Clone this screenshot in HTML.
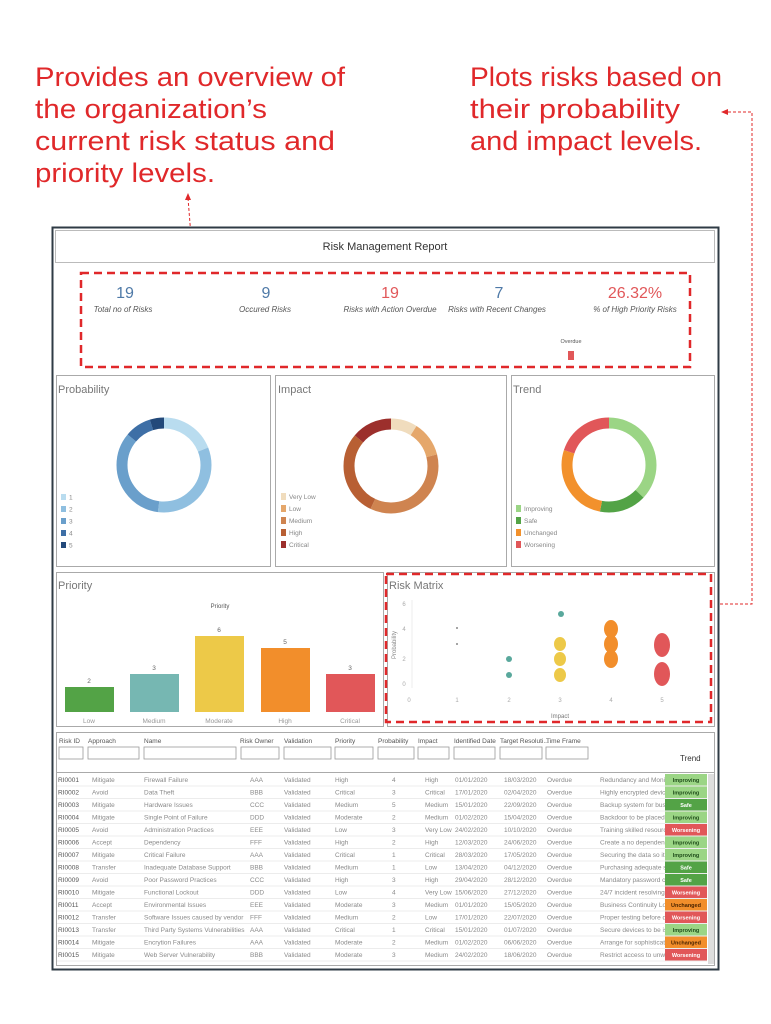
<!DOCTYPE html>
<html><head><meta charset="utf-8"><style>
html,body{margin:0;padding:0;background:#fff;}
svg{display:block;font-family:"Liberation Sans",sans-serif;}
.ann{font-family:"Liberation Sans",sans-serif;fill:#e0282a;font-size:27px;}
.t{font-size:6.5px;fill:#8a8a8a;}
.h{font-size:6.5px;fill:#555;}
.pt{font-size:11px;fill:#777;}
.lg{font-size:6.5px;fill:#888;}
</style></head><body>
<svg width="771" height="1024" viewBox="0 0 771 1024" xmlns="http://www.w3.org/2000/svg">
<text class="ann" x="35" y="86" textLength="310" lengthAdjust="spacingAndGlyphs">Provides an overview of</text>
<text class="ann" x="35" y="118" textLength="232" lengthAdjust="spacingAndGlyphs">the organization’s</text>
<text class="ann" x="35" y="150" textLength="300" lengthAdjust="spacingAndGlyphs">current risk status and</text>
<text class="ann" x="35" y="182" textLength="180" lengthAdjust="spacingAndGlyphs">priority levels.</text>
<text class="ann" x="470" y="86" textLength="252" lengthAdjust="spacingAndGlyphs">Plots risks based on</text>
<text class="ann" x="470" y="118" textLength="210" lengthAdjust="spacingAndGlyphs">their probability</text>
<text class="ann" x="470" y="150" textLength="232" lengthAdjust="spacingAndGlyphs">and impact levels.</text>
<path d="M188 198 L196 300" stroke="#e0282a" stroke-width="1" stroke-dasharray="3,2" fill="none"/>
<path d="M185 200 L188 193 L191 200Z" fill="#e0282a"/>
<path d="M680 604 L752 604 L752 112 L727 112" stroke="#e0282a" stroke-width="1" stroke-dasharray="3,2" fill="none"/>
<path d="M728 109 L721 112 L728 115Z" fill="#e0282a"/>
<rect x="52.5" y="227.5" width="666" height="742" fill="#fff" stroke="#2f3b45" stroke-width="2"/>
<rect x="55.5" y="230.5" width="659" height="32" fill="#fff" stroke="#bbb"/>
<text x="385" y="250" text-anchor="middle" font-size="11" fill="#333">Risk Management Report</text>
<rect x="81" y="273" width="609" height="94" fill="none" stroke="#e0282a" stroke-width="2.5" stroke-dasharray="8,5"/>
<g font-size="16" text-anchor="middle">
<text x="125" y="298" fill="#4e79a7">19</text>
<text x="266" y="298" fill="#4e79a7">9</text>
<text x="390" y="298" fill="#e15759">19</text>
<text x="499" y="298" fill="#4e79a7">7</text>
<text x="635" y="298" fill="#e15759">26.32%</text>
</g>
<g font-size="8" font-style="italic" fill="#555" text-anchor="middle">
<text x="123" y="312">Total no of Risks</text>
<text x="265" y="312">Occured Risks</text>
<text x="390" y="312">Risks with Action Overdue</text>
<text x="497" y="312">Risks with Recent Changes</text>
<text x="635" y="312">% of High Priority Risks</text>
</g>
<text x="571" y="343" font-size="5.5" fill="#555" text-anchor="middle">Overdue</text>
<rect x="568" y="351" width="6" height="9" fill="#e15759"/>
<rect x="56.5" y="375.5" width="214" height="191" fill="#fff" stroke="#aaa"/>
<rect x="275.5" y="375.5" width="231" height="191" fill="#fff" stroke="#aaa"/>
<rect x="511.5" y="375.5" width="203" height="191" fill="#fff" stroke="#aaa"/>
<text class="pt" x="58" y="393">Probability</text>
<text class="pt" x="278" y="393">Impact</text>
<text class="pt" x="513" y="393">Trend</text>
<g transform="translate(164,465) rotate(-90)" fill="none" stroke-width="11">
<circle r="42" stroke="#b9dcef" stroke-dasharray="50.1 263.9" stroke-dashoffset="0"/>
<circle r="42" stroke="#8fbfe0" stroke-dasharray="87.1 263.9" stroke-dashoffset="-50.1"/>
<circle r="42" stroke="#6a9fcb" stroke-dasharray="89.7 263.9" stroke-dashoffset="-137.2"/>
<circle r="42" stroke="#3e6fa6" stroke-dasharray="23.8 263.9" stroke-dashoffset="-226.9"/>
<circle r="42" stroke="#23497a" stroke-dasharray="13.2 263.9" stroke-dashoffset="-250.7"/>
</g>
<g class="lg">
<rect x="61" y="494" width="5" height="6" fill="#b9dcef"/><text x="69" y="499.5">1</text>
<rect x="61" y="506" width="5" height="6" fill="#8fbfe0"/><text x="69" y="511.5">2</text>
<rect x="61" y="518" width="5" height="6" fill="#6a9fcb"/><text x="69" y="523.5">3</text>
<rect x="61" y="530" width="5" height="6" fill="#3e6fa6"/><text x="69" y="535.5">4</text>
<rect x="61" y="542" width="5" height="6" fill="#23497a"/><text x="69" y="547.5">5</text>
</g>
<g transform="translate(391,466) rotate(-90)" fill="none" stroke-width="11">
<circle r="42" stroke="#f0dcbd" stroke-dasharray="23.8 263.9" stroke-dashoffset="0"/>
<circle r="42" stroke="#e5a76b" stroke-dasharray="31.7 263.9" stroke-dashoffset="-23.8"/>
<circle r="42" stroke="#cf8450" stroke-dasharray="95 263.9" stroke-dashoffset="-55.5"/>
<circle r="42" stroke="#b85f33" stroke-dasharray="76.5 263.9" stroke-dashoffset="-150.5"/>
<circle r="42" stroke="#9c2f2c" stroke-dasharray="36.9 263.9" stroke-dashoffset="-227"/>
</g>
<g class="lg">
<rect x="281" y="493" width="5" height="7" fill="#f0dcbd"/><text x="289" y="499">Very Low</text>
<rect x="281" y="505" width="5" height="7" fill="#e5a76b"/><text x="289" y="511">Low</text>
<rect x="281" y="517" width="5" height="7" fill="#cf8450"/><text x="289" y="523">Medium</text>
<rect x="281" y="529" width="5" height="7" fill="#b85f33"/><text x="289" y="535">High</text>
<rect x="281" y="541" width="5" height="7" fill="#9c2f2c"/><text x="289" y="547">Critical</text>
</g>
<g transform="translate(609,465) rotate(-90)" fill="none" stroke-width="11">
<circle r="42" stroke="#9bd585" stroke-dasharray="97.6 263.9" stroke-dashoffset="0"/>
<circle r="42" stroke="#53a346" stroke-dasharray="42.2 263.9" stroke-dashoffset="-97.6"/>
<circle r="42" stroke="#f2912c" stroke-dasharray="71.3 263.9" stroke-dashoffset="-139.8"/>
<circle r="42" stroke="#e15759" stroke-dasharray="52.8 263.9" stroke-dashoffset="-211.1"/>
</g>
<g class="lg">
<rect x="516" y="505" width="5" height="7" fill="#9bd585"/><text x="524" y="511">Improving</text>
<rect x="516" y="517" width="5" height="7" fill="#53a346"/><text x="524" y="523">Safe</text>
<rect x="516" y="529" width="5" height="7" fill="#f2912c"/><text x="524" y="535">Unchanged</text>
<rect x="516" y="541" width="5" height="7" fill="#e15759"/><text x="524" y="547">Worsening</text>
</g>
<rect x="56.5" y="572.5" width="327" height="154" fill="#fff" stroke="#aaa"/>
<text class="pt" x="58" y="589">Priority</text>
<text x="220" y="608" font-size="6" fill="#555" text-anchor="middle">Priority</text>
<rect x="65" y="687" width="49" height="25" fill="#53a346"/>
<rect x="130" y="674" width="49" height="38" fill="#76b7b2"/>
<rect x="195" y="636" width="49" height="76" fill="#edc948"/>
<rect x="261" y="648" width="49" height="64" fill="#f28e2b"/>
<rect x="326" y="674" width="49" height="38" fill="#e15759"/>
<g font-size="6.5" fill="#666" text-anchor="middle">
<text x="89" y="683">2</text><text x="154" y="670">3</text><text x="219" y="632">6</text><text x="285" y="644">5</text><text x="350" y="670">3</text>
<text x="89" y="723" fill="#999">Low</text><text x="154" y="723" fill="#999">Medium</text><text x="219" y="723" fill="#999">Moderate</text><text x="285" y="723" fill="#999">High</text><text x="350" y="723" fill="#999">Critical</text>
</g>
<rect x="387.5" y="572.5" width="327" height="154" fill="#fff" stroke="#aaa"/>
<text class="pt" x="389" y="589">Risk Matrix</text>
<line x1="412" y1="600" x2="412" y2="688" stroke="#eee"/>
<g font-size="6" fill="#aaa" text-anchor="middle">
<text x="404" y="606">6</text><text x="404" y="631">4</text><text x="404" y="661">2</text><text x="404" y="686">0</text>
<text x="409" y="702">0</text><text x="457" y="702">1</text><text x="509" y="702">2</text><text x="560" y="702">3</text><text x="611" y="702">4</text><text x="662" y="702">5</text>
<text x="560" y="718" fill="#777">Impact</text>
<text transform="translate(396,645) rotate(-90)" fill="#888">Probability</text>
</g>
<circle cx="457" cy="628" r="1" fill="#888"/><circle cx="457" cy="644" r="1" fill="#888"/>
<circle cx="509" cy="659" r="3" fill="#59a89c"/><circle cx="509" cy="675" r="3" fill="#59a89c"/>
<circle cx="561" cy="614" r="3" fill="#59a89c"/>
<ellipse cx="560" cy="644" rx="6" ry="7" fill="#edc948"/><ellipse cx="560" cy="659" rx="6" ry="7" fill="#edc948"/><ellipse cx="560" cy="675" rx="6" ry="7" fill="#edc948"/>
<ellipse cx="611" cy="629" rx="7" ry="9" fill="#f28e2b"/><ellipse cx="611" cy="644" rx="7" ry="9" fill="#f28e2b"/><ellipse cx="611" cy="659" rx="7" ry="9" fill="#f28e2b"/>
<ellipse cx="662" cy="645" rx="8" ry="12" fill="#e15759"/><ellipse cx="662" cy="674" rx="8" ry="12" fill="#e15759"/>
<rect x="386" y="574" width="325" height="148" fill="none" stroke="#e0282a" stroke-width="2.5" stroke-dasharray="8,5"/>
<rect x="56.5" y="732.5" width="658" height="43" fill="#fff" stroke="#aaa"/>
<g class="h">
<text x="59" y="743">Risk ID</text><text x="88" y="743">Approach</text><text x="144" y="743">Name</text><text x="240" y="743">Risk Owner</text><text x="284" y="743">Validation</text><text x="335" y="743">Priority</text><text x="378" y="743">Probability</text><text x="418" y="743">Impact</text><text x="454" y="743">Identified Date</text><text x="500" y="743">Target Resoluti...</text><text x="546" y="743">Time Frame</text>
</g>
<g fill="#fff" stroke="#999" stroke-width="0.8">
<rect x="59" y="747" width="24" height="12"/><rect x="88" y="747" width="51" height="12"/><rect x="144" y="747" width="92" height="12"/><rect x="241" y="747" width="38" height="12"/><rect x="284" y="747" width="47" height="12"/><rect x="335" y="747" width="38" height="12"/><rect x="378" y="747" width="36" height="12"/><rect x="418" y="747" width="31" height="12"/><rect x="454" y="747" width="41" height="12"/><rect x="500" y="747" width="42" height="12"/><rect x="546" y="747" width="42" height="12"/>
</g>
<text x="680" y="761" font-size="8" fill="#333">Trend</text>
<rect x="56.5" y="772.5" width="658" height="193" fill="#fff" stroke="#aaa"/>
<rect x="708" y="774" width="6" height="190" fill="#ddd"/>
<g stroke="#e6e6e6" stroke-width="0.8">
<line x1="57" y1="786" x2="707" y2="786"/><line x1="57" y1="798.5" x2="707" y2="798.5"/><line x1="57" y1="811" x2="707" y2="811"/><line x1="57" y1="823.5" x2="707" y2="823.5"/><line x1="57" y1="836" x2="707" y2="836"/><line x1="57" y1="848.5" x2="707" y2="848.5"/><line x1="57" y1="861" x2="707" y2="861"/><line x1="57" y1="873.5" x2="707" y2="873.5"/><line x1="57" y1="886" x2="707" y2="886"/><line x1="57" y1="898.5" x2="707" y2="898.5"/><line x1="57" y1="911" x2="707" y2="911"/><line x1="57" y1="923.5" x2="707" y2="923.5"/><line x1="57" y1="936" x2="707" y2="936"/><line x1="57" y1="948.5" x2="707" y2="948.5"/><line x1="57" y1="961" x2="707" y2="961"/>
</g>
<g class="t">
<g transform="translate(0,782)"><text x="58" fill="#555">RI0001</text><text x="92">Mitigate</text><text x="144">Firewall Failure</text><text x="250">AAA</text><text x="284">Validated</text><text x="335">High</text><text x="392">4</text><text x="425">High</text><text x="455">01/01/2020</text><text x="504">18/03/2020</text><text x="547">Overdue</text><text x="600">Redundancy and Monitor.</text></g>
<g transform="translate(0,794.5)"><text x="58" fill="#555">RI0002</text><text x="92">Avoid</text><text x="144">Data Theft</text><text x="250">BBB</text><text x="284">Validated</text><text x="335">Critical</text><text x="392">3</text><text x="425">Critical</text><text x="455">17/01/2020</text><text x="504">02/04/2020</text><text x="547">Overdue</text><text x="600">Highly encrypted devices.</text></g>
<g transform="translate(0,807)"><text x="58" fill="#555">RI0003</text><text x="92">Mitigate</text><text x="144">Hardware Issues</text><text x="250">CCC</text><text x="284">Validated</text><text x="335">Medium</text><text x="392">5</text><text x="425">Medium</text><text x="455">15/01/2020</text><text x="504">22/09/2020</text><text x="547">Overdue</text><text x="600">Backup system for busine</text></g>
<g transform="translate(0,819.5)"><text x="58" fill="#555">RI0004</text><text x="92">Mitigate</text><text x="144">Single Point of Failure</text><text x="250">DDD</text><text x="284">Validated</text><text x="335">Moderate</text><text x="392">2</text><text x="425">Medium</text><text x="455">01/02/2020</text><text x="504">15/04/2020</text><text x="547">Overdue</text><text x="600">Backdoor to be placed</text></g>
<g transform="translate(0,832)"><text x="58" fill="#555">RI0005</text><text x="92">Avoid</text><text x="144">Administration Practices</text><text x="250">EEE</text><text x="284">Validated</text><text x="335">Low</text><text x="392">3</text><text x="425">Very Low</text><text x="455">24/02/2020</text><text x="504">10/10/2020</text><text x="547">Overdue</text><text x="600">Training skilled resources</text></g>
<g transform="translate(0,844.5)"><text x="58" fill="#555">RI0006</text><text x="92">Accept</text><text x="144">Dependency</text><text x="250">FFF</text><text x="284">Validated</text><text x="335">High</text><text x="392">2</text><text x="425">High</text><text x="455">12/03/2020</text><text x="504">24/06/2020</text><text x="547">Overdue</text><text x="600">Create a no dependency s.</text></g>
<g transform="translate(0,857)"><text x="58" fill="#555">RI0007</text><text x="92">Mitigate</text><text x="144">Critical Failure</text><text x="250">AAA</text><text x="284">Validated</text><text x="335">Critical</text><text x="392">1</text><text x="425">Critical</text><text x="455">28/03/2020</text><text x="504">17/05/2020</text><text x="547">Overdue</text><text x="600">Securing the data so it ca</text></g>
<g transform="translate(0,869.5)"><text x="58" fill="#555">RI0008</text><text x="92">Transfer</text><text x="144">Inadequate Database Support</text><text x="250">BBB</text><text x="284">Validated</text><text x="335">Medium</text><text x="392">1</text><text x="425">Low</text><text x="455">13/04/2020</text><text x="504">04/12/2020</text><text x="547">Overdue</text><text x="600">Purchasing adequate spac</text></g>
<g transform="translate(0,882)"><text x="58" fill="#555">RI0009</text><text x="92">Avoid</text><text x="144">Poor Password Practices</text><text x="250">CCC</text><text x="284">Validated</text><text x="335">High</text><text x="392">3</text><text x="425">High</text><text x="455">29/04/2020</text><text x="504">28/12/2020</text><text x="547">Overdue</text><text x="600">Mandatory password con.</text></g>
<g transform="translate(0,894.5)"><text x="58" fill="#555">RI0010</text><text x="92">Mitigate</text><text x="144">Functional Lockout</text><text x="250">DDD</text><text x="284">Validated</text><text x="335">Low</text><text x="392">4</text><text x="425">Very Low</text><text x="455">15/06/2020</text><text x="504">27/12/2020</text><text x="547">Overdue</text><text x="600">24/7 incident resolving sy</text></g>
<g transform="translate(0,907)"><text x="58" fill="#555">RI0011</text><text x="92">Accept</text><text x="144">Environmental Issues</text><text x="250">EEE</text><text x="284">Validated</text><text x="335">Moderate</text><text x="392">3</text><text x="425">Medium</text><text x="455">01/01/2020</text><text x="504">15/05/2020</text><text x="547">Overdue</text><text x="600">Business Continuity Locat</text></g>
<g transform="translate(0,919.5)"><text x="58" fill="#555">RI0012</text><text x="92">Transfer</text><text x="144">Software Issues caused by vendor</text><text x="250">FFF</text><text x="284">Validated</text><text x="335">Medium</text><text x="392">2</text><text x="425">Low</text><text x="455">17/01/2020</text><text x="504">22/07/2020</text><text x="547">Overdue</text><text x="600">Proper testing before dep</text></g>
<g transform="translate(0,932)"><text x="58" fill="#555">RI0013</text><text x="92">Transfer</text><text x="144">Third Party Systems Vulnerabilities</text><text x="250">AAA</text><text x="284">Validated</text><text x="335">Critical</text><text x="392">1</text><text x="425">Critical</text><text x="455">15/01/2020</text><text x="504">01/07/2020</text><text x="547">Overdue</text><text x="600">Secure devices to be issue</text></g>
<g transform="translate(0,944.5)"><text x="58" fill="#555">RI0014</text><text x="92">Mitigate</text><text x="144">Encrytion Failures</text><text x="250">AAA</text><text x="284">Validated</text><text x="335">Moderate</text><text x="392">2</text><text x="425">Medium</text><text x="455">01/02/2020</text><text x="504">06/06/2020</text><text x="547">Overdue</text><text x="600">Arrange for sophisticated</text></g>
<g transform="translate(0,957)"><text x="58" fill="#555">RI0015</text><text x="92">Mitigate</text><text x="144">Web Server Vulnerability</text><text x="250">BBB</text><text x="284">Validated</text><text x="335">Moderate</text><text x="392">3</text><text x="425">Medium</text><text x="455">24/02/2020</text><text x="504">18/06/2020</text><text x="547">Overdue</text><text x="600">Restrict access to unwant</text></g>
</g>
<g font-size="5.5" font-weight="bold" text-anchor="middle">
<rect x="665" y="774" width="42" height="11.5" fill="#9bd585"/><text x="686" y="782" fill="#1f4d1a">Improving</text>
<rect x="665" y="786.5" width="42" height="11.5" fill="#9bd585"/><text x="686" y="794.5" fill="#1f4d1a">Improving</text>
<rect x="665" y="799" width="42" height="11.5" fill="#53a346"/><text x="686" y="807" fill="#fff">Safe</text>
<rect x="665" y="811.5" width="42" height="11.5" fill="#9bd585"/><text x="686" y="819.5" fill="#1f4d1a">Improving</text>
<rect x="665" y="824" width="42" height="11.5" fill="#e15759"/><text x="686" y="832" fill="#fff">Worsening</text>
<rect x="665" y="836.5" width="42" height="11.5" fill="#9bd585"/><text x="686" y="844.5" fill="#1f4d1a">Improving</text>
<rect x="665" y="849" width="42" height="11.5" fill="#9bd585"/><text x="686" y="857" fill="#1f4d1a">Improving</text>
<rect x="665" y="861.5" width="42" height="11.5" fill="#53a346"/><text x="686" y="869.5" fill="#fff">Safe</text>
<rect x="665" y="874" width="42" height="11.5" fill="#53a346"/><text x="686" y="882" fill="#fff">Safe</text>
<rect x="665" y="886.5" width="42" height="11.5" fill="#e15759"/><text x="686" y="894.5" fill="#fff">Worsening</text>
<rect x="665" y="899" width="42" height="11.5" fill="#f28e2b"/><text x="686" y="907" fill="#4a2400">Unchanged</text>
<rect x="665" y="911.5" width="42" height="11.5" fill="#e15759"/><text x="686" y="919.5" fill="#fff">Worsening</text>
<rect x="665" y="924" width="42" height="11.5" fill="#9bd585"/><text x="686" y="932" fill="#1f4d1a">Improving</text>
<rect x="665" y="936.5" width="42" height="11.5" fill="#f28e2b"/><text x="686" y="944.5" fill="#4a2400">Unchanged</text>
<rect x="665" y="949" width="42" height="11.5" fill="#e15759"/><text x="686" y="957" fill="#fff">Worsening</text>
</g>
</svg>
</body></html>
